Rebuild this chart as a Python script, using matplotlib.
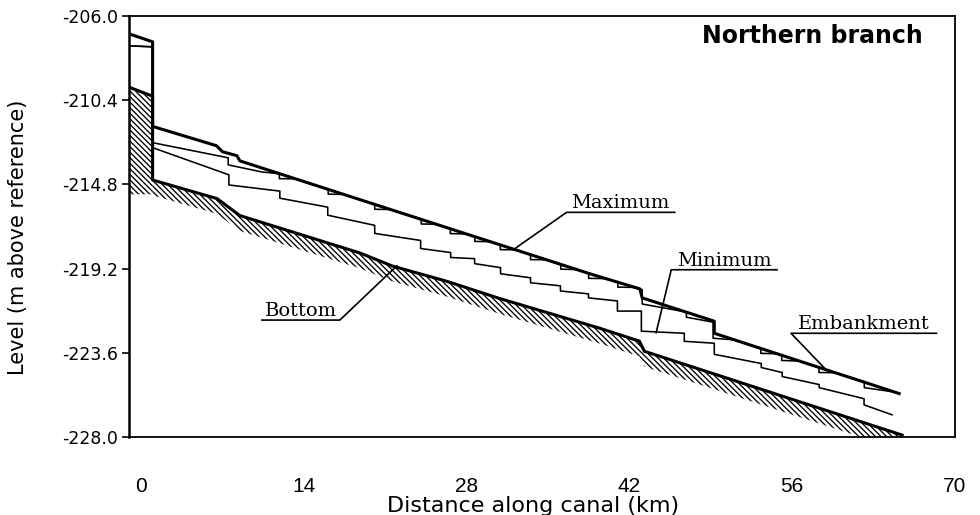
import numpy as np
import matplotlib
matplotlib.use("Agg")
import matplotlib.pyplot as plt

# canal profile, northern branch (km along canal, level in m)
emb_km = [-1.03, 1.0, 1.0, 6.5, 7.0, 8.25, 8.5, 26.5, 38.6, 42.9, 43.1, 49.3, 49.3, 65.2]
emb_m = [-206.93, -207.35, -211.77, -212.78, -213.09, -213.30, -213.57, -217.10,
         -219.47, -220.26, -220.73, -221.95, -222.58, -225.73]

max_km = [-1.03, 1.0, 1.0, 7.5, 7.5, 10.4, 11.9, 11.9, 13.3, 16.1, 16.1, 17.4,
          20.1, 20.1, 21.5, 24.1, 24.1, 25.4, 26.6, 26.6, 28.0, 28.7, 28.7, 30.1,
          30.9, 30.9, 32.3, 33.5, 33.5, 34.9, 36.1, 36.1, 37.5, 38.5, 38.5, 39.9,
          41.0, 41.0, 42.3, 43.1, 43.1, 46.9, 46.9, 49.2, 49.2, 51.0, 53.3, 53.3,
          54.7, 55.1, 55.1, 56.6, 58.3, 58.3, 59.7, 62.2, 62.2, 64.8, 65.2]
max_m = [-207.56, -207.61, -212.62, -213.41, -213.78, -214.15, -214.24, -214.50, -214.51,
         -215.05, -215.31, -215.32, -215.84, -216.10, -216.11, -216.61, -216.87, -216.88,
         -217.11, -217.37, -217.39, -217.52, -217.78, -217.79, -217.95, -218.21, -218.22,
         -218.47, -218.73, -218.74, -218.97, -219.23, -219.25, -219.45, -219.71, -219.72,
         -219.91, -220.17, -220.18, -220.30, -221.05, -221.47, -221.74, -222.00, -222.84,
         -222.92, -223.37, -223.63, -223.65, -223.74, -224.00, -224.03, -224.37, -224.63,
         -224.64, -225.11, -225.42, -225.65, -225.73]

min_km = [-1.03, 1.0, 1.0, 7.56, 7.56, 11.94, 11.94, 16.06, 16.06, 20.10, 20.10, 24.05,
          24.05, 26.63, 26.63, 28.69, 28.69, 30.92, 30.92, 33.50, 33.50, 36.07, 36.07,
          38.48, 38.48, 40.97, 40.97, 43.03, 43.03, 46.72, 46.72, 49.30, 49.30, 53.34,
          53.34, 55.14, 55.14, 58.32, 58.32, 62.18, 62.18, 64.59]
min_m = [-207.56, -207.61, -212.88, -214.30, -214.83, -215.15, -215.52, -215.99, -216.41,
         -216.94, -217.36, -217.73, -218.15, -218.36, -218.62, -218.68, -218.94, -219.15,
         -219.47, -219.68, -219.94, -220.10, -220.37, -220.52, -220.73, -220.89, -221.42,
         -221.42, -222.47, -222.58, -223.00, -223.10, -223.68, -224.16, -224.37, -224.63,
         -224.84, -225.26, -225.42, -226.00, -226.32, -226.84]

bot_km = [-1.03, 1.0, 1.0, 6.53, 8.51, 18.81, 21.64, 26.28, 30.83, 39.42, 42.86, 43.29, 65.45]
bot_m = [-209.72, -210.19, -214.57, -215.54, -216.43, -218.38, -219.07, -219.86, -220.76,
         -222.31, -222.99, -223.52, -227.90]

x_ticks = [0, 14, 28, 42, 56, 70]
y_ticks = [-228.0, -223.6, -219.2, -214.8, -210.4, -206.0]

plt.rcParams["hatch.linewidth"] = 0.95

fig = plt.figure(figsize=(9.8, 5.15), dpi=100)
ax = fig.add_axes([129 / 980, 1 - 437 / 515, (955 - 129) / 980, (437 - 16) / 515])

# hatched ground under the bottom line
bk = np.array(bot_km)
bm = np.array(bot_m)
hatch = "\\" * 6
ax.fill([bk[0], bk[1], bk[1], bk[0]], [bm[0], bm[1], bm[2] - 0.75, bm[2] - 0.75],
        facecolor="none", edgecolor="black", hatch=hatch, linewidth=0)
ax.fill_between(bk[2:], bm[2:], bm[2:] - 0.8, facecolor="none", edgecolor="black",
                hatch=hatch, linewidth=0)

ax.plot(bot_km, bot_m, color="black", lw=2.2)
ax.plot(min_km, min_m, color="black", lw=1.15)
ax.plot(max_km, max_m, color="black", lw=1.15)
ax.plot(emb_km, emb_m, color="black", lw=2.2)

# labels with underline + leader
serif = "DejaVu Serif"
notes = [
    ("Maximum", (32.0, -218.22), 36.6, 45.9, -216.26),
    ("Minimum", (44.3, -222.55), 45.6, 54.7, -219.26),
    ("Embankment", (58.9, -224.48), 55.9, 68.4, -222.58),
    ("Bottom", (22.0, -219.06), 17.1, 10.4, -221.89),
]
for txt, tgt, u0, u1, uy in notes:
    ax.plot([tgt[0], u0, u1], [tgt[1], uy, uy], color="black", lw=1.2)
    ax.text((u0 + u1) / 2, uy + 0.22, txt, ha="center", va="baseline",
            family=serif, fontsize=14)

ax.text(0.961, 0.952, "Northern branch", transform=ax.transAxes, ha="right",
        va="center", family="DejaVu Sans", fontweight="bold", fontsize=17)

ax.set_xlim(-1.03, 70)
ax.set_ylim(-228, -206)
ax.set_xticks(x_ticks)
ax.set_xticklabels([str(v) for v in x_ticks], family="Liberation Sans", fontsize=15)
ax.set_yticks(y_ticks)
ax.set_yticklabels([f"{v:.1f}" for v in y_ticks], family="DejaVu Sans", fontsize=12.5)
ax.tick_params(axis="x", length=0, pad=29)
ax.tick_params(axis="y", length=5, width=1.2, pad=3, direction="out")
for s in ax.spines.values():
    s.set_linewidth(1.3)
ax.spines["left"].set_linewidth(1.8)

fig.text(533 / 980, 1 - 512 / 515, "Distance along canal (km)", ha="center",
         va="baseline", family="DejaVu Sans", fontsize=16)
fig.text(18 / 980, 1 - 237 / 515, "Level (m above reference)", ha="center",
         va="center", rotation=90, family="DejaVu Sans", fontsize=15)

fig.savefig("out.png", dpi=100)
